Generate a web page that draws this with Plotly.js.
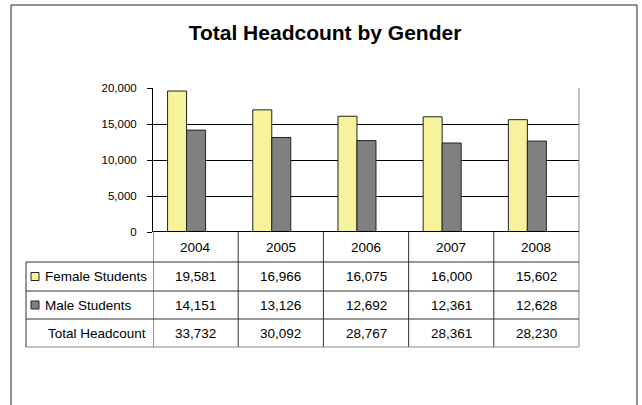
<!DOCTYPE html>
<html>
<head>
<meta charset="utf-8">
<script src="https://cdn.plot.ly/plotly-3.0.1.min.js"></script>
<style>
  html, body { margin: 0; padding: 0; background: #fff; }
  #chart { width: 642px; height: 405px; }
</style>
</head>
<body>
<div id="chart"></div>
<script>
var years = ['2004', '2005', '2006', '2007', '2008'];
var femaleStudents = [19581, 16966, 16075, 16000, 15602];
var maleStudents = [14151, 13126, 12692, 12361, 12628];
var totalHeadcount = [33732, 30092, 28767, 28361, 28230];
var seriesNames = ['Female Students', 'Male Students', 'Total Headcount'];

var femaleColor = '#F7F39C';
var maleColor = '#808080';
var font = 'Arial, "Liberation Sans", sans-serif';

// plot area in pixels: x 153..579, y 88..232
var L = 153, R = 579, T = 88, B = 232;
function px(x) { return (x - L) / (R - L); }
function py(y) { return (B - y) / (B - T); }

var barWidth = 0.223;

var traces = [
  {
    type: 'bar', name: seriesNames[0], x: years, y: femaleStudents,
    width: barWidth, offset: -0.329,
    marker: { color: femaleColor, line: { color: '#222', width: 1 } },
    hoverinfo: 'x+y+name'
  },
  {
    type: 'bar', name: seriesNames[1], x: years, y: maleStudents,
    width: barWidth, offset: -0.329 + barWidth,
    marker: { color: maleColor, line: { color: '#222', width: 1 } },
    hoverinfo: 'x+y+name'
  }
];

// table rows (pixel edges)
var rowEdges = [232, 262, 291, 319, 347];
var keyLeft = 26;

var shapes = [];
var annotations = [];
var cellFont = { family: font, size: 13.5, color: '#000' };

// outer chart border
shapes.push({ type: 'rect', xref: 'paper', yref: 'paper',
  x0: px(11), x1: px(637), y0: py(5), y1: py(407),
  line: { color: '#222', width: 1 } });

// right border of plot + table
shapes.push({ type: 'line', xref: 'paper', yref: 'paper',
  x0: 1, x1: 1, y0: 1, y1: py(rowEdges[4]), line: { color: '#888', width: 1 } });

// column separators through the table
for (var i = 0; i < years.length; i++) {
  shapes.push({ type: 'line', xref: 'x', yref: 'paper',
    x0: i - 0.5, x1: i - 0.5, y0: 0, y1: py(rowEdges[4]),
    line: { color: i === 0 ? '#222' : '#333', width: 1 } });
}

// row lines
for (var r = 1; r < rowEdges.length; r++) {
  shapes.push({ type: 'line', xref: 'paper', yref: 'paper',
    x0: px(keyLeft), x1: 1, y0: py(rowEdges[r]), y1: py(rowEdges[r]),
    line: { color: r === rowEdges.length - 1 ? '#888' : '#333', width: 1 } });
}
// left edge of the key column
shapes.push({ type: 'line', xref: 'paper', yref: 'paper',
  x0: px(keyLeft), x1: px(keyLeft), y0: py(rowEdges[1]), y1: py(rowEdges[4]),
  line: { color: '#333', width: 1 } });

// zero line (thicker)
shapes.push({ type: 'line', xref: 'paper', yref: 'y',
  x0: 0, x1: 1, y0: 0, y1: 0, line: { color: '#000', width: 2 } });

// year header row (category axis: annotation x is the category index)
years.forEach(function (yr, j) {
  annotations.push({ xref: 'x', yref: 'paper', x: j,
    y: py((rowEdges[0] + rowEdges[1]) / 2), xanchor: 'center', yanchor: 'middle',
    text: yr, showarrow: false, font: cellFont });
});

// value rows
var rowValues = [femaleStudents, maleStudents, totalHeadcount];
var keyColors = [femaleColor, maleColor, null];
rowValues.forEach(function (vals, k) {
  var mid = (rowEdges[k + 1] + rowEdges[k + 2]) / 2;
  vals.forEach(function (v, j) {
    annotations.push({ xref: 'x', yref: 'paper', x: j, y: py(mid),
      xanchor: 'center', yanchor: 'middle',
      text: v.toLocaleString('en-US'), showarrow: false, font: cellFont });
  });
  annotations.push({ xref: 'paper', yref: 'paper', x: px(k === 2 ? 46 : 43), y: py(mid),
    xanchor: 'left', yanchor: 'middle', text: seriesNames[k], showarrow: false,
    font: cellFont });
  if (keyColors[k]) {
    shapes.push({ type: 'rect', xref: 'paper', yref: 'paper',
      x0: px(31), x1: px(39), y0: py(mid - 4), y1: py(mid + 4),
      fillcolor: keyColors[k], line: { color: '#222', width: 1 } });
  }
});

var layout = {
  width: 642,
  height: 405,
  margin: { l: L, r: 642 - R, t: T, b: 405 - B },
  paper_bgcolor: '#fff',
  plot_bgcolor: '#fff',
  showlegend: false,
  font: { family: font, color: '#000' },
  title: {
    text: 'Total Headcount by Gender',
    x: 325 / 642, xanchor: 'center', xref: 'container',
    y: 1 - 33 / 405, yanchor: 'middle', yref: 'container',
    font: { family: font, size: 21, weight: 'bold', color: '#000' }
  },
  xaxis: {
    type: 'category',
    range: [-0.5, years.length - 0.5],
    showticklabels: false,
    showgrid: false,
    zeroline: false,
    showline: false,
    ticks: '',
    fixedrange: true
  },
  yaxis: {
    range: [0, 20000],
    dtick: 5000,
    tickformat: ',',
    ticks: 'outside',
    ticklen: 5,
    tickcolor: '#000',
    ticklabelstandoff: 8,
    tickfont: { family: font, size: 11.5, color: '#000' },
    showgrid: true,
    gridcolor: '#000',
    gridwidth: 1,
    showline: true,
    linecolor: '#000',
    linewidth: 1,
    zeroline: false,
    fixedrange: true
  },
  shapes: shapes,
  annotations: annotations
};

Plotly.newPlot('chart', traces, layout, { displayModeBar: false, staticPlot: true });
</script>
</body>
</html>
